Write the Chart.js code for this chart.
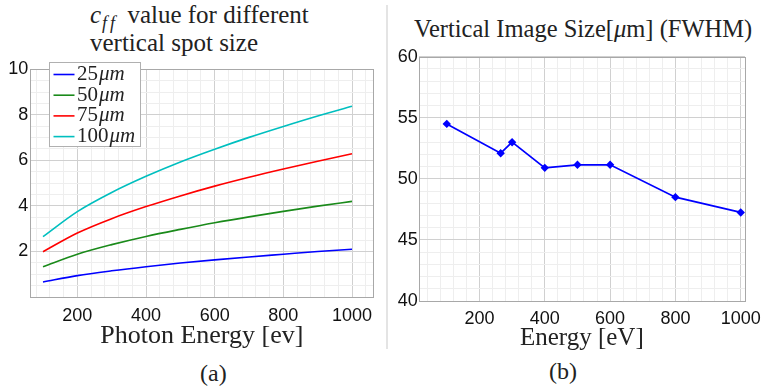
<!DOCTYPE html>
<html lang="en">
<head>
    <meta charset="UTF-8">
    <title>cff and image size</title>
    <script src="https://cdn.jsdelivr.net/npm/chart.js@4.4.1/dist/chart.umd.min.js"></script>
    <style>
        body {
            margin: 0;
            background: white;
        }

        #page {
            position: relative;
            width: 768px;
            height: 390px;
            overflow: hidden;
            color: #222;
            font-family: "Liberation Serif", serif;
        }

        .txt {
            position: absolute;
            font-family: "Liberation Serif", serif;
            font-size: 24px;
            line-height: 28px;
            white-space: nowrap;
        }

        .sub {
            font-style: italic;
            font-size: 18px;
            letter-spacing: 3px;
            margin-left: 1px;
            margin-right: 3px;
            position: relative;
            top: 6px;
        }

        .box {
            position: absolute;
        }

        #sep {
            position: absolute;
            left: 386px;
            top: 5px;
            width: 1.5px;
            height: 344px;
            background: #e4e4e4;
        }
    </style>
</head>
<body>
<div id="page">
    <div class="txt" style="left:90px; top:1px; font-size:25px;"><i>c</i><span class="sub">ff</span> value for different</div>
    <div class="txt" style="left:90px; top:29px; font-size:25px;">vertical spot size</div>
    <div class="txt" style="left:414px; top:15px; font-size:24.5px;">Vertical Image Size[<i>μ</i>m] (FWHM)</div>
    <div class="txt" style="left:200px; top:359px;">(a)</div>
    <div class="txt" style="left:549px; top:357px;">(b)</div>
    <div id="sep"></div>
    <div class="box" style="left:0; top:55px; width:384px; height:300px;"><canvas id="leftChart"></canvas></div>
    <div class="box" style="left:384px; top:40px; width:384px; height:315px;"><canvas id="rightChart"></canvas></div>
</div>

<script>
// (a) cff vs photon energy, one curve per vertical spot size
const energy = [100, 200, 300, 400, 500, 600, 700, 800, 900, 1000];
const cff25  = [0.66, 0.94, 1.15, 1.33, 1.49, 1.63, 1.76, 1.88, 2.00, 2.10];
const cff50  = [1.33, 1.88, 2.30, 2.66, 2.97, 3.26, 3.52, 3.76, 3.99, 4.20];
const cff75  = [1.99, 2.81, 3.44, 3.97, 4.44, 4.87, 5.26, 5.62, 5.96, 6.29];
const cff100 = [2.65, 3.75, 4.59, 5.30, 5.93, 6.49, 7.01, 7.49, 7.95, 8.38];
const spotLabels = ["25μm", "50μm", "75μm", "100μm"];

// (b) measured vertical image size
const imgEnergy = [100, 265, 300, 400, 500, 600, 800, 1000];
const imgSize   = [54.5, 52.1, 53.0, 50.9, 51.15, 51.15, 48.5, 47.25];

const MAJOR = "#d0d0d0", MINOR = "#eeeeee", FRAME = "#a8a8a8";
const tickFont = { family: "Liberation Sans", size: 18 };

function pts(xs, ys) {
  return xs.map((x, i) => ({ x: x, y: ys[i] }));
}

// ticks on every minor step so the light grid gets drawn too
function stepTicks(from, to, step) {
  return function (scale) {
    const t = [];
    for (let v = from; v <= to + 1e-9; v += step) t.push({ value: Math.round(v * 100) / 100 });
    scale.ticks = t;
  };
}

function isMajor(v, major) {
  return Math.abs(v / major - Math.round(v / major)) < 1e-6;
}

const frame = {
  id: "frame",
  beforeDatasetsDraw(chart) {
    const a = chart.chartArea, ctx = chart.ctx;
    ctx.save();
    ctx.strokeStyle = FRAME;
    ctx.lineWidth = 1;
    ctx.strokeRect(Math.round(a.left) + 0.5, Math.round(a.top) + 0.5,
                   Math.round(a.right - a.left), Math.round(a.bottom - a.top));
    ctx.restore();
  }
};

// legend box inside the plot (top left), as in the figure
const insideLegend = {
  id: "insideLegend",
  afterDraw(chart) {
    const ctx = chart.ctx;
    const x0 = 49.5, y0 = 7.5, w = 91, h = 84;
    ctx.save();
    ctx.fillStyle = "white";
    ctx.strokeStyle = "#b0b0b0";
    ctx.lineWidth = 1;
    ctx.fillRect(x0, y0, w, h);
    ctx.strokeRect(x0, y0, w, h);
    ctx.textBaseline = "middle";
    chart.data.datasets.forEach((ds, i) => {
      const y = 19.5 + i * 20.7;
      ctx.strokeStyle = ds.borderColor;
      ctx.lineWidth = 1.6;
      ctx.beginPath();
      ctx.moveTo(53.5, y);
      ctx.lineTo(74.5, y);
      ctx.stroke();
      const num = ds.label.replace("μm", "");
      ctx.fillStyle = "#222";
      ctx.font = "21px 'Liberation Serif'";
      ctx.fillText(num, 77, y);
      const nw = ctx.measureText(num).width;
      ctx.font = "italic 21px 'Liberation Serif'";
      ctx.fillText("μm", 77 + nw + 1, y);
    });
    ctx.restore();
  }
};

new Chart("leftChart", {
  type: "line",
  data: {
    datasets: [
      { label: spotLabels[0], data: pts(energy, cff25),  borderColor: "#0000ff" },
      { label: spotLabels[1], data: pts(energy, cff50),  borderColor: "#1a8a1a" },
      { label: spotLabels[2], data: pts(energy, cff75),  borderColor: "#ff0000" },
      { label: spotLabels[3], data: pts(energy, cff100), borderColor: "#00bfbf" }
    ]
  },
  options: {
    responsive: true,
    maintainAspectRatio: false,
    animation: false,
    layout: { padding: { left: 0, right: 10.7, top: 14.3, bottom: 0 } },
    elements: {
      point: { radius: 0 },
      line: { borderWidth: 1.6, cubicInterpolationMode: "monotone", fill: false }
    },
    plugins: { legend: { display: false }, tooltip: { enabled: false } },
    scales: {
      x: {
        type: "linear",
        min: 63, max: 1062,
        afterBuildTicks: stepTicks(80, 1040, 40),
        afterFit: s => { s.height = 58; },
        border: { display: false },
        grid: { drawTicks: false, color: c => isMajor(c.tick.value, 200) ? MAJOR : MINOR },
        ticks: {
          autoSkip: false, maxRotation: 0, minRotation: 0, padding: 8,
          color: "#111", font: tickFont,
          callback: v => isMajor(v, 200) ? v : ""
        },
        title: {
          display: true, text: "Photon Energy [ev]", color: "#222",
          font: { family: "Liberation Serif", size: 26 },
          padding: { top: 0, bottom: 3 }
        }
      },
      y: {
        min: 0, max: 10,
        afterBuildTicks: stepTicks(0, 10, 0.5),
        afterFit: s => { s.width = 30.3; },
        border: { display: false },
        grid: { drawTicks: false, color: c => isMajor(c.tick.value, 2) ? MAJOR : MINOR },
        ticks: {
          autoSkip: false, padding: 2, color: "#111", font: tickFont,
          callback: v => (isMajor(v, 2) && v !== 0) ? v : ""
        }
      }
    }
  },
  plugins: [frame, insideLegend]
});

new Chart("rightChart", {
  type: "line",
  data: {
    datasets: [{
      label: "FWHM",
      data: pts(imgEnergy, imgSize),
      borderColor: "#0000ff",
      backgroundColor: "#0000ff",
      borderWidth: 1.7,
      pointStyle: "rectRot",
      pointRadius: 3,
      tension: 0,
      fill: false
    }]
  },
  options: {
    responsive: true,
    maintainAspectRatio: false,
    animation: false,
    layout: { padding: { left: 0, right: 18.3, top: 16.7, bottom: 0 } },
    plugins: { legend: { display: false }, tooltip: { enabled: false } },
    scales: {
      x: {
        type: "linear",
        min: 14, max: 1013,
        afterBuildTicks: stepTicks(40, 1000, 40),
        afterFit: s => { s.height = 54; },
        border: { display: false },
        grid: { drawTicks: false, color: c => isMajor(c.tick.value, 200) ? MAJOR : MINOR },
        ticks: {
          autoSkip: false, maxRotation: 0, minRotation: 0, padding: 7,
          color: "#111", font: tickFont,
          callback: v => isMajor(v, 200) ? v : ""
        },
        title: {
          display: true, text: "Energy [eV]", color: "#222",
          font: { family: "Liberation Serif", size: 25 },
          padding: { top: 0, bottom: 2 }
        }
      },
      y: {
        min: 40, max: 60,
        afterBuildTicks: stepTicks(40, 60, 1),
        afterFit: s => { s.width = 34.7; },
        border: { display: false },
        grid: { drawTicks: false, color: c => isMajor(c.tick.value, 5) ? MAJOR : MINOR },
        ticks: {
          autoSkip: false, padding: 1, color: "#111", font: tickFont,
          callback: v => isMajor(v, 5) ? v : ""
        }
      }
    }
  },
  plugins: [frame]
});
</script>
</body>
</html>
